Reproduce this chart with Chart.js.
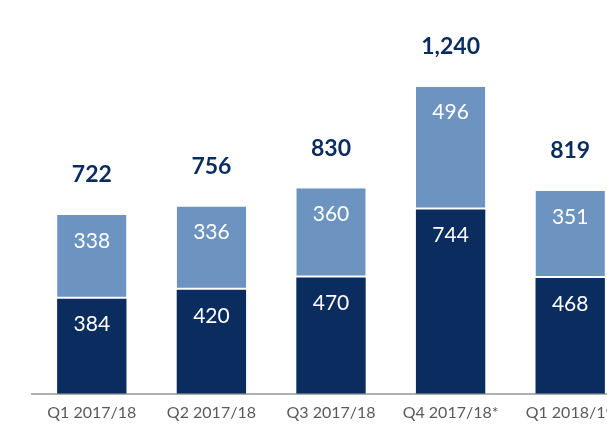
<!DOCTYPE html>
<html>
<head>
<meta charset="utf-8">
<script src="https://cdn.jsdelivr.net/npm/chart.js@4"></script>
<style>
  html, body { margin:0; padding:0; background:#fff; overflow:hidden; }
  #wrap { width:640px; height:430px; }
</style>
</head>
<body>
<div id="wrap"><canvas id="chart" width="640" height="430"></canvas></div>
<script>
  // ===== Data =====
  const categories = ['Q1 2017/18', 'Q2 2017/18', 'Q3 2017/18', 'Q4 2017/18*', 'Q1 2018/19'];
  const lowerValues = [384, 420, 470, 744, 468];
  const upperValues = [338, 336, 360, 496, 351];
  const totals = [722, 756, 830, 1240, 819];

  const NAVY = '#0b2c5f';
  const LIGHT = '#6d93c0';
  const FONT = 'Lato, "Open Sans", sans-serif';

  // labels inside the segments + totals above
  const barLabels = {
    id: 'barLabels',
    afterDatasetsDraw(chart){
      const ctx = chart.ctx;
      const y = chart.scales.y;
      ctx.save();
      ctx.textAlign = 'center';
      ctx.textBaseline = 'middle';
      chart.data.datasets.forEach((ds, i) => {
        const meta = chart.getDatasetMeta(i);
        meta.data.forEach((bar, j) => {
          ctx.fillStyle = '#ffffff';
          ctx.font = '21px ' + FONT;
          ctx.fillText(String(ds.data[j]), bar.x, bar.y + 26);
        });
      });
      const top = chart.getDatasetMeta(1);
      top.data.forEach((bar, j) => {
        ctx.fillStyle = NAVY;
        ctx.font = 'bold 23px ' + FONT;
        ctx.fillText(totals[j].toLocaleString('en-US'), bar.x, y.getPixelForValue(totals[j]) - 40);
      });
      ctx.restore();
    }
  };

  new Chart(document.getElementById('chart'), {
    type: 'bar',
    data: {
      labels: categories,
      datasets: [
        { data: lowerValues, backgroundColor: NAVY, borderWidth: 0 },
        { data: upperValues, backgroundColor: LIGHT, borderColor: '#ffffff',
          borderWidth: { top: 0, left: 0, right: 0, bottom: 2 }, borderSkipped: false }
      ]
    },
    options: {
      responsive: false,
      animation: false,
      layout: { padding: { left: 32, right: 10, top: 0, bottom: 7 } },
      plugins: { legend: { display: false }, tooltip: { enabled: false } },
      datasets: { bar: { barPercentage: 1, categoryPercentage: 0.58 } },
      scales: {
        x: {
          stacked: true,
          grid: { display: false },
          border: { color: '#b0b0b0', width: 2 },
          ticks: { color: '#5a5a5a', font: { family: FONT, size: 16 }, padding: 1, maxRotation: 0 }
        },
        y: {
          stacked: true,
          display: false,
          min: 0,
          max: 1590
        }
      }
    },
    plugins: [barLabels]
  });
</script>
</body>
</html>
